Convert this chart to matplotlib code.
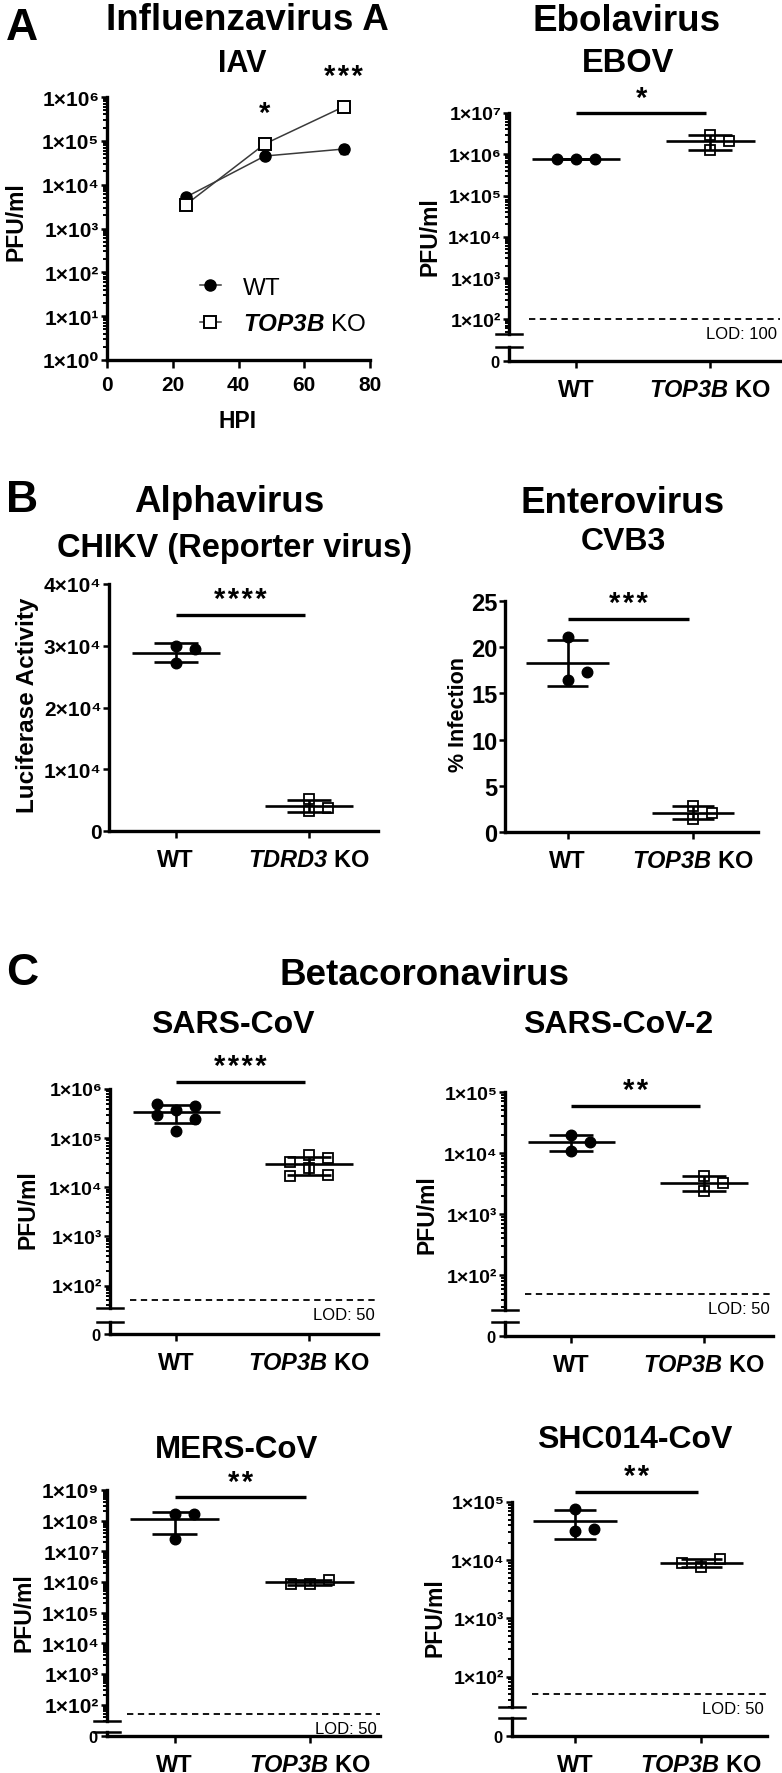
import numpy as np
import matplotlib
matplotlib.use("Agg")
import matplotlib.pyplot as plt
from matplotlib.ticker import LogLocator, NullFormatter
from matplotlib.lines import Line2D

W, H, DPI = 782, 1774, 100

plt.rcParams["font.family"] = ["Liberation Sans", "DejaVu Sans"]
plt.rcParams["mathtext.fontset"] = "custom"
plt.rcParams["mathtext.rm"] = "Liberation Sans:bold"
plt.rcParams["mathtext.bf"] = "Liberation Sans:bold"
plt.rcParams["mathtext.it"] = "Liberation Sans:italic:bold"
plt.rcParams["mathtext.bfit"] = "Liberation Sans:italic:bold"

# ---------------- data ----------------
# A, influenza time course (PFU/ml)
iav_hpi = [24, 48, 72]
iav_wt = [5200, 45000, 65000]
iav_wt_sd = [800, 5000, 15000]
iav_ko = [3500, 85000, 600000]
iav_ko_sd = [500, 10000, 50000]
iav_sig = ["", "*", "***"]

# replicate values, WT vs KO
ebov_wt = [7.8e5, 7.6e5, 7.7e5]
ebov_ko = [3.0e6, 2.1e6, 1.3e6]
chikv_wt = [3.0e4, 2.95e4, 2.72e4]
chikv_ko = [3.3e3, 5.2e3, 3.8e3]
cvb3_wt = [21.1, 16.4, 17.3]
cvb3_ko = [2.8, 2.1, 1.4]
sars_wt = [3.8e5, 4.5e5, 5.0e5, 3.0e5, 2.4e5, 1.4e5]
sars_ko = [4.6e4, 4.0e4, 3.2e4, 2.5e4, 1.8e4, 1.7e4]
sars2_wt = [2.0e4, 1.1e4, 1.5e4]
sars2_ko = [4.2e3, 2.4e3, 3.2e3]
mers_wt = [1.6e8, 1.6e8, 2.5e7]
mers_ko = [8.5e5, 1.2e6, 8.8e5]
shc_wt = [7.7e4, 3.2e4, 3.5e4]
shc_ko = [7.5e3, 1.05e4, 9.0e3]

groups = ["WT", r"$\mathbfit{TOP3B}$ KO"]
groups_tdrd3 = ["WT", r"$\mathbfit{TDRD3}$ KO"]

# significance stars and bar heights
sig_ebov, bar_ebov = "*", 1.0e7
sig_chikv, bar_chikv = "****", 3.5e4
sig_cvb3, bar_cvb3 = "***", 23.1
sig_sars, bar_sars = "****", 1.4e6
sig_sars2, bar_sars2 = "**", 6.0e4
sig_mers, bar_mers = "**", 5.8e8
sig_shc, bar_shc = "**", 1.5e5

lod_ebov = 100
lod_cov = 50

# ---------------- helpers ----------------
fig = plt.figure(figsize=(W / DPI, H / DPI), dpi=DPI)
XL = (-0.5, 1.52)
STAR_FS = 21
SUP = str.maketrans("0123456789", "⁰¹²³⁴⁵⁶⁷⁸⁹")


def px_axes(x0, y0, x1, y1):
    return fig.add_axes([x0 / W, 1 - y1 / H, (x1 - x0) / W, (y1 - y0) / H])


def ftext(x, y, s, size, weight="bold", **kw):
    fig.text(x / W, 1 - y / H, s, fontsize=size, fontweight=weight,
             ha=kw.pop("ha", "center"), va=kw.pop("va", "baseline"), **kw)


def stars(s):
    return "\u200a".join(s)


def style(ax, bottom=True):
    ax.spines["top"].set_visible(False)
    ax.spines["right"].set_visible(False)
    ax.spines["bottom"].set_visible(bottom)
    for side in ["left", "bottom"]:
        ax.spines[side].set_linewidth(2.4)
    ax.tick_params(which="major", length=4.5, width=1.8)
    ax.tick_params(which="minor", length=2.8, width=1.4)
    ax.patch.set_alpha(0)


def pow_labels(exps, mant=1):
    return [f"{mant}×10" + str(e).translate(SUP) for e in exps]


def log_minor(ax):
    ax.yaxis.set_minor_locator(LogLocator(base=10, subs=np.arange(2, 10), numticks=60))
    ax.yaxis.set_minor_formatter(NullFormatter())


def swarm_x(ax, xc, vals, step=19, thr=10):
    pts = ax.transData.transform(np.column_stack([np.full(len(vals), float(xc)), vals]))
    unit = ax.transData.transform((1, 1))[0] - ax.transData.transform((0, 1))[0]
    slots = []
    for y in pts[:, 1]:
        for k in (0, 1, -1, 2, -2, 3, -3):
            if all(k != kk or abs(y - yy) >= thr for yy, kk in slots):
                break
        slots.append((y, k))
    return xc + np.array([k for _, k in slots]) * step / unit


def dots(ax, wt, ko, sig, bar_y):
    for xc, vals, filled in ((0, wt, True), (1, ko, False)):
        xs = swarm_x(ax, xc, vals)
        if filled:
            ax.plot(xs, vals, "o", ms=7.6, color="k", zorder=3, clip_on=False)
        else:
            ax.plot(xs, vals, "s", ms=7.0, mfc="none", mec="k", mew=1.3, zorder=3, clip_on=False)
        m, s = np.mean(vals), np.std(vals, ddof=1)
        kw = dict(color="k", lw=1.9, zorder=4, solid_capstyle="butt")
        ax.plot([xc - 0.33, xc + 0.33], [m, m], **kw)
        for v in (m - s, m + s):
            ax.plot([xc - 0.165, xc + 0.165], [v, v], **kw)
        ax.plot([xc, xc], [m - s, m + s], **kw)
    ax.plot([0, 0.97], [bar_y, bar_y], color="k", lw=2.4, clip_on=False,
            solid_capstyle="butt")
    ax.annotate(stars(sig), xy=(0.485, bar_y), xytext=(0, 1), textcoords="offset points",
                ha="center", va="bottom", fontsize=STAR_FS, fontweight="bold",
                annotation_clip=False)


def log_panel(box, e_top, ymin, lod, wt, ko, sig, bar_y, tick_fs=14, xlabels=groups):
    x0, y_top, x1, y_brk, y_low, y_zero = box
    ax = px_axes(x0, y_top, x1, y_brk)
    ax.set_yscale("log")
    ax.set_ylim(ymin, 10.0 ** e_top)
    ax.set_xlim(XL)
    style(ax, bottom=False)
    exps = [e for e in range(0, e_top + 1) if 10.0 ** e >= ymin]
    ax.set_yticks([10.0 ** e for e in exps], pow_labels(exps),
                  fontsize=tick_fs, fontweight="bold")
    log_minor(ax)
    ax.set_xticks([])
    ax.tick_params(axis="y", pad=1)
    w = x1 - x0
    ax.axhline(lod, xmin=20 / w, color="k", lw=1.3, ls=(0, (3.5, 2.5)))
    ax.annotate(f"LOD: {lod}", xy=(1, lod), xycoords=("axes fraction", "data"),
                xytext=(-2, -5), textcoords="offset points", ha="right", va="top",
                fontsize=12)
    dots(ax, wt, ko, sig, bar_y)

    ax0 = px_axes(x0, y_low, x1, y_zero)
    ax0.set_ylim(0, 1)
    ax0.set_xlim(XL)
    style(ax0)
    ax0.set_yticks([0], ["0"], fontsize=12, fontweight="bold")
    ax0.set_xticks([0, 1], xlabels, fontsize=17, fontweight="bold")
    ax0.tick_params(axis="x", length=5, pad=7)
    ax0.tick_params(axis="y", pad=2)
    d = 13 / w
    ax.plot([-d, d], [0, 0], transform=ax.transAxes, color="k", lw=1.8, clip_on=False)
    ax0.plot([-d, d], [1, 1], transform=ax0.transAxes, color="k", lw=1.8, clip_on=False)
    return ax


def lin_panel(box, yticks, ylabels, wt, ko, sig, bar_y, tick_fs, xlabels=groups):
    x0, y_top, x1, y_zero = box
    ax = px_axes(x0, y_top, x1, y_zero)
    ax.set_ylim(0, yticks[-1])
    ax.set_xlim(XL)
    style(ax)
    ax.set_yticks(yticks, ylabels, fontsize=tick_fs, fontweight="bold")
    ax.set_xticks([0, 1], xlabels, fontsize=17, fontweight="bold")
    ax.tick_params(axis="x", length=5, pad=7)
    ax.tick_params(axis="y", pad=1)
    dots(ax, wt, ko, sig, bar_y)
    return ax


# ---------------- A: influenza ----------------
ax = px_axes(107, 98, 370, 361)
ax.set_yscale("log")
ax.set_ylim(1, 1e6)
ax.set_xlim(0, 80)
style(ax)
ax.set_yticks([10.0 ** e for e in range(7)], pow_labels(range(7)), fontsize=15, fontweight="bold")
log_minor(ax)
ax.set_xticks(range(0, 81, 20), [str(v) for v in range(0, 81, 20)], fontsize=15, fontweight="bold")
ax.tick_params(axis="x", length=6, pad=5)
ax.tick_params(axis="y", pad=1)
ax.errorbar(iav_hpi, iav_wt, yerr=iav_wt_sd, fmt="none", ecolor="k", elinewidth=1.2, capsize=3, zorder=2)
ax.errorbar(iav_hpi, iav_ko, yerr=iav_ko_sd, fmt="none", ecolor="k", elinewidth=1.2, capsize=3, zorder=2)
ax.plot(iav_hpi, iav_wt, "-o", color="#3a3a3a", lw=1.1, ms=8, mfc="k", mec="k", zorder=3)
ax.plot(iav_hpi, iav_ko, "-s", color="#3a3a3a", lw=1.1, ms=8.5, mfc="white", mec="k", mew=1.4, zorder=4)
for x, a, b, s in zip(iav_hpi, iav_wt, iav_ko, iav_sig):
    if s:
        ax.annotate(stars(s), xy=(x, max(a, b)), xytext=(0, 12), textcoords="offset points",
                    ha="center", va="bottom", fontsize=STAR_FS, fontweight="bold",
                    annotation_clip=False)
handles = [Line2D([], [], color="#3a3a3a", lw=1.1, marker="o", ms=8, mfc="k", mec="k"),
           Line2D([], [], color="#3a3a3a", lw=1.1, marker="s", ms=8.5, mfc="white", mec="k", mew=1.4)]
ax.legend(handles, ["WT", r"$\mathbfit{TOP3B}$ KO"], frameon=False, fontsize=17.5,
          loc="center left", bbox_to_anchor=((200 - 107) / 263, 1 - (307 - 98) / 263),
          borderpad=0, borderaxespad=0, handlelength=0.85, handletextpad=0.9,
          labelspacing=0.6)
ftext(238, 428, "HPI", 16.5)
ftext(16, 222, "PFU/ml", 16.5, rotation=90, va="center")

log_panel((509, 114, 780, 335, 348, 362), 7, 44, lod_ebov, ebov_wt, ebov_ko, sig_ebov, bar_ebov)
ftext(430, 237, "PFU/ml", 16.5, rotation=90, va="center")

# ---------------- B ----------------
lin_panel((109, 585, 378, 832), [0, 1e4, 2e4, 3e4, 4e4],
          ["0"] + [f"{m}×10⁴" for m in (1, 2, 3, 4)],
          chikv_wt, chikv_ko, sig_chikv, bar_chikv, 15, xlabels=groups_tdrd3)
ftext(28, 705, "Luciferase Activity", 17.5, rotation=90, va="center")
lin_panel((505, 602, 758, 833), [0, 5, 10, 15, 20, 25], ["0", "5", "10", "15", "20", "25"],
          cvb3_wt, cvb3_ko, sig_cvb3, bar_cvb3, 17)
ftext(458, 714, "% Infection", 15.5, rotation=90, va="center")

# ---------------- C ----------------
log_panel((110, 1090, 378, 1309, 1323, 1335), 6, 35, lod_cov, sars_wt, sars_ko, sig_sars, bar_sars)
ftext(28, 1210, "PFU/ml", 16.5, rotation=90, va="center")
log_panel((505, 1093, 773, 1311, 1323, 1337), 5, 27, lod_cov, sars2_wt, sars2_ko, sig_sars2, bar_sars2)
ftext(427, 1215, "PFU/ml", 16.5, rotation=90, va="center")
log_panel((107, 1491, 380, 1722, 1733, 1737), 9, 29, lod_cov, mers_wt, mers_ko, sig_mers, bar_mers, 15)
ftext(24, 1613, "PFU/ml", 16.5, rotation=90, va="center")
log_panel((512, 1503, 767, 1708, 1719, 1737), 5, 30, lod_cov, shc_wt, shc_ko, sig_shc, bar_shc)
ftext(435, 1618, "PFU/ml", 16.5, rotation=90, va="center")

# ---------------- titles ----------------
for letter, y in (("A", 40), ("B", 512), ("C", 985)):
    ftext(22, y, letter, 32)
ftext(247, 30, "Influenzavirus A", 26.5)
ftext(242, 72, "IAV", 22)
ftext(627, 31, "Ebolavirus", 26.5)
ftext(628, 72, "EBOV", 23.5)
ftext(229, 512, "Alphavirus", 26.5)
ftext(235, 557, "CHIKV (Reporter virus)", 23.5)
ftext(623, 513, "Enterovirus", 26.5)
ftext(623, 550, "CVB3", 23)
ftext(425, 985, "Betacoronavirus", 26.5)
ftext(233, 1033, "SARS-CoV", 23)
ftext(618, 1033, "SARS-CoV-2", 23)
ftext(237, 1458, "MERS-CoV", 22.5)
ftext(635, 1448, "SHC014-CoV", 23)

fig.savefig("out.png", dpi=DPI)
